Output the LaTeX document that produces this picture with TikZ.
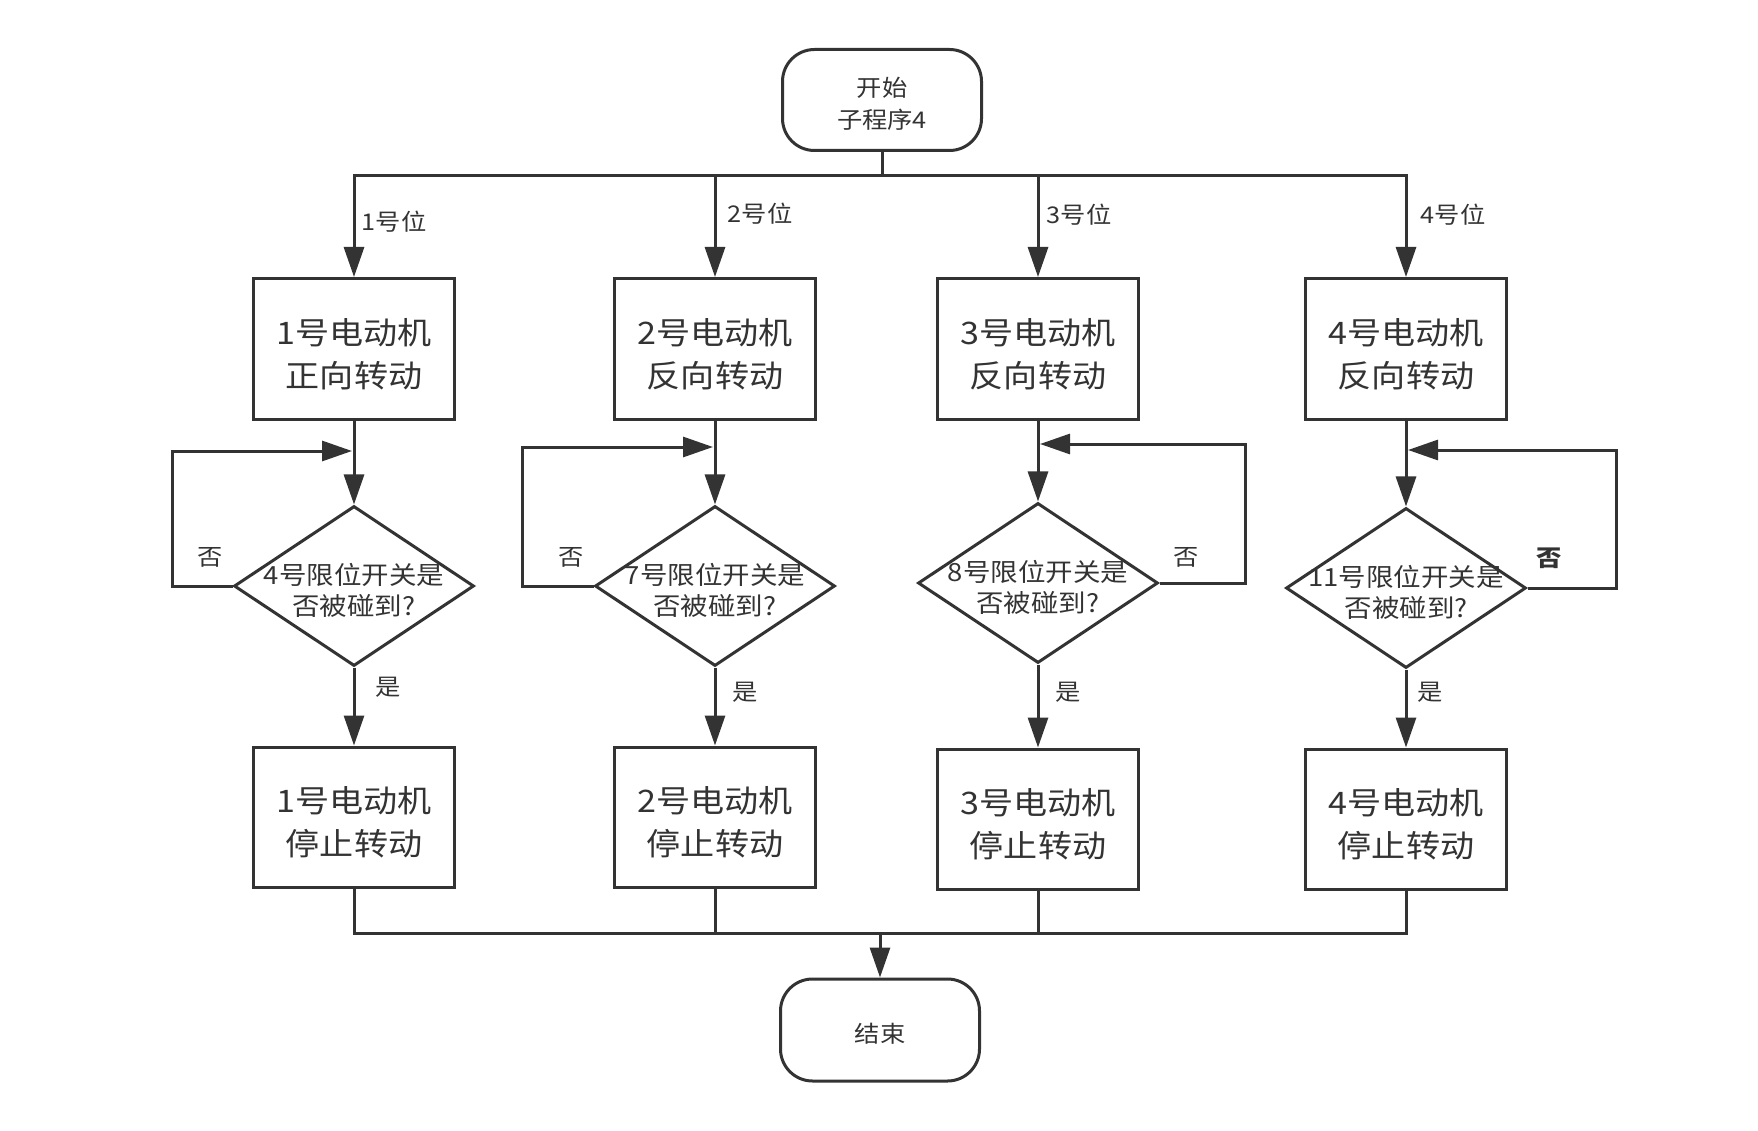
\documentclass[tikz,border=0pt]{standalone}
\usepackage{fontspec}
\setmainfont{Noto Sans CJK SC}[FakeStretch=1.1]
\usetikzlibrary{arrows.meta,shapes.geometric}
\definecolor{ink}{HTML}{333333}
\begin{document}
\begin{tikzpicture}[x=1pt,y=-1pt,
  every node/.style={text=ink},
  box/.style={draw=ink, line width=3pt, minimum width=201pt, minimum height=141pt, inner sep=0pt},
  btxt/.style={align=center, inner sep=0pt, font=\fontsize{31}{43}\selectfont},
  term/.style={draw=ink, line width=3pt, rounded corners=32pt, minimum width=199pt, minimum height=101pt, inner sep=0pt},
  ttxt/.style={align=center, inner sep=0pt, font=\fontsize{23}{32}\selectfont},
  dia/.style={draw=ink, line width=3pt, diamond, minimum width=240pt, minimum height=160pt, inner sep=0pt},
  dtxt/.style={align=center, font=\fontsize{25}{31}\selectfont, inner sep=0pt},
  lbl/.style={font=\fontsize{23}{28}\selectfont, inner sep=0pt},
  ln/.style={draw=ink, line width=3pt},
  arr/.style={ln, -{Triangle[length=30pt,width=20pt]}}
]
\useasboundingbox (0,0) rectangle (1758,1131);

% terminals
\node[term] (start) at (882,100) {};
\node[ttxt] (startt) at (882,103.5) {开始\\子程序4};
\node[term, minimum height=102pt] (end) at (880,1030) {};
\node[ttxt] (endt) at (880,1034) {结束};

% top boxes
\node[box] (b1) at (354,349) {};
\node[box] (b2) at (715,349) {};
\node[box] (b3) at (1038,349) {};
\node[box] (b4) at (1406,349) {};
\node[btxt] (b1t) at (354,354.5) {1号电动机\\正向转动};
\node[btxt] (b2t) at (715,354.5) {2号电动机\\反向转动};
\node[btxt] (b3t) at (1038,354.5) {3号电动机\\反向转动};
\node[btxt] (b4t) at (1406,354.5) {4号电动机\\反向转动};

% diamonds
\node[dia] (d1) at (354,586) {};
\node[dia] (d2) at (715,586) {};
\node[dia] (d3) at (1038,583) {};
\node[dia] (d4) at (1406,588) {};
\node[dtxt] (t1) at (354,590) {4号限位开关是\\否被碰到?};
\node[dtxt] (t2) at (715,590) {7号限位开关是\\否被碰到?};
\node[dtxt] (t3) at (1038,587) {8号限位开关是\\否被碰到?};
\node[dtxt] (t4) at (1406,592) {11号限位开关是\\否被碰到?};

% bottom boxes
\node[box, minimum height=140pt] (bb1) at (354,817) {};
\node[box, minimum height=140pt] (bb2) at (715,817) {};
\node[box, minimum height=140pt] (bb3) at (1038,819) {};
\node[box, minimum height=140pt] (bb4) at (1406,819) {};
\node[btxt] (bb1t) at (354,822.5) {1号电动机\\停止转动};
\node[btxt] (bb2t) at (715,822.5) {2号电动机\\停止转动};
\node[btxt] (bb3t) at (1038,824.5) {3号电动机\\停止转动};
\node[btxt] (bb4t) at (1406,824.5) {4号电动机\\停止转动};

% top bus
\coordinate (bus) at (882,176);
\draw[ln] (start) -- (bus);
\draw[arr] (bus) -| (b1);
\draw[arr] (bus) -| (b2);
\draw[arr] (bus) -| (b3);
\draw[arr] (bus) -| (b4);
\node[lbl] (l1) at (394,222) {1号位};
\node[lbl] (l2) at (760,214) {2号位};
\node[lbl] (l3) at (1079,215) {3号位};
\node[lbl] (l4) at (1453,215) {4号位};

% box to diamond
\draw[arr] (b1) -- (d1);
\draw[arr] (b2) -- (d2);
\draw[arr] (b3) -- (d3);
\draw[arr] (b4) -- (d4);

% loops
\coordinate (n1) at (172,451); \coordinate (n1e) at (352,451);
\coordinate (n2) at (522,447); \coordinate (n2e) at (713,447);
\coordinate (n3) at (1245,444); \coordinate (n3e) at (1040,444);
\coordinate (n4) at (1616,450); \coordinate (n4e) at (1408,450);
\draw[arr] (d1.west) -| (n1) -- (n1e);
\draw[arr] (d2.west) -| (n2) -- (n2e);
\draw[arr] (d3.east) -| (n3) -- (n3e);
\draw[arr] (d4.east) -| (n4) -- (n4e);
\node[lbl] (no1) at (210,557) {否};
\node[lbl] (no2) at (571,557) {否};
\node[lbl] (no3) at (1186,557) {否};
\node[lbl, font=\fontsize{23}{28}\bfseries] (no4) at (1549,558) {否};

% diamond to bottom boxes
\draw[arr] (d1) -- (bb1);
\draw[arr] (d2) -- (bb2);
\draw[arr] (d3) -- (bb3);
\draw[arr] (d4) -- (bb4);
\node[lbl] (y1) at (388,687) {是};
\node[lbl] (y2) at (745,692) {是};
\node[lbl] (y3) at (1068,692) {是};
\node[lbl] (y4) at (1430,692) {是};

% bottom bus
\coordinate (m) at (880,933);
\draw[ln] (bb1) |- (m);
\draw[ln] (bb2) |- (m);
\draw[ln] (bb3) |- (m);
\draw[ln] (bb4) |- (m);
\draw[arr] (m) -- (end);
\end{tikzpicture}
\end{document}
